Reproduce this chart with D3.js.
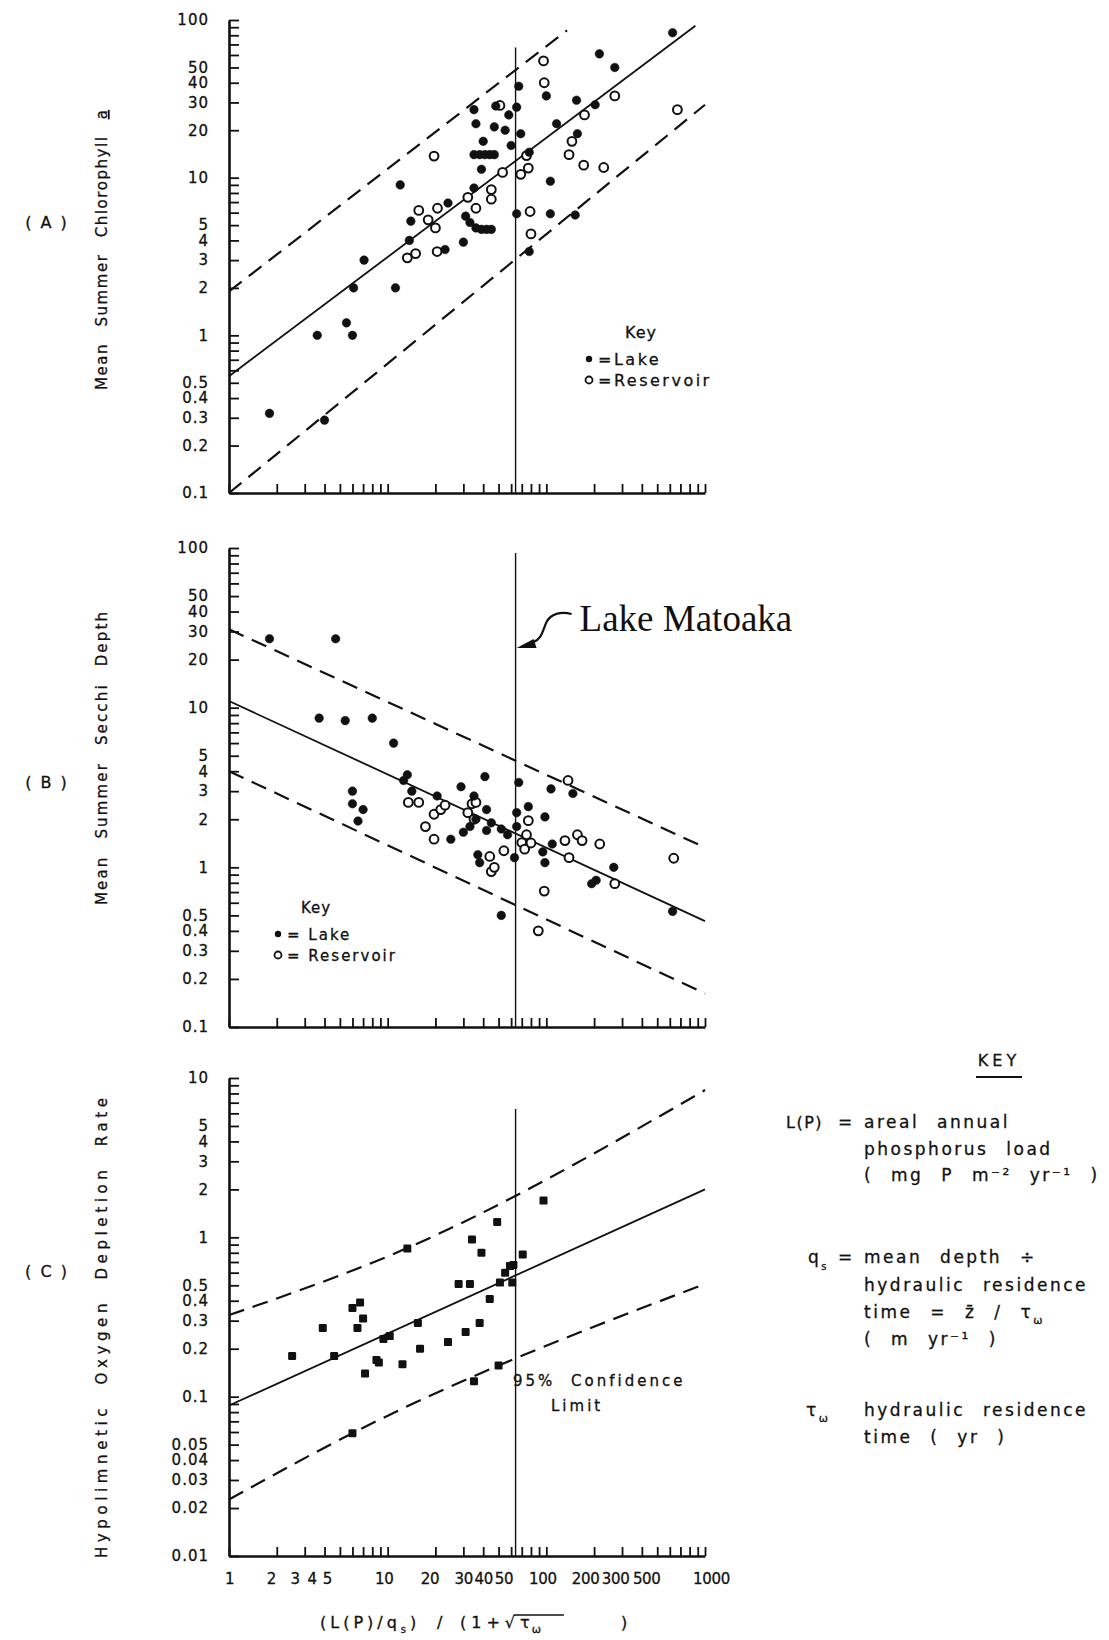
<!DOCTYPE html>
<html>
<head>
<meta charset="utf-8">
<title>Phosphorus loading relationships</title>
<script src="https://d3js.org/d3.v7.min.js"></script>
<style>
  body { margin: 0; background: #fff; }
  text { font-family: "DejaVu Sans", sans-serif; fill: #111; stroke: #111; stroke-width: 0.3px; }
</style>
</head>
<body>
<div id="viz"></div>
<script>
// tick labels
const xLabels = [1, 2, 3, 4, 5, 10, 20, 30, 40, 50, 100, 200, 300, 500, 1000];
const yLabelsAB = [0.1, 0.2, 0.3, 0.4, 0.5, 1, 2, 3, 4, 5, 10, 20, 30, 40, 50, 100];
const yLabelsC = [0.01, 0.02, 0.03, 0.04, 0.05, 0.1, 0.2, 0.3, 0.4, 0.5, 1, 2, 3, 4, 5, 10];

// Lake Matoaka loading value and top of its marker line in each panel
const lakeMatoaka = 64;
const matoakaTop = [67, 93, 6.4];

// (A) mean summer chlorophyll a   [loading term, chl]
const chlLake = [[1.8,0.32],[3.6,1.0],[4.0,0.29],[5.5,1.2],[6.0,1.0],[6.1,2.0],[7.1,3.0],[11.2,2.0],
  [12,9],[13.7,4.0],[14,5.3],[23,3.5],[24,6.9],[30,3.9],[31,5.7],[35,27],[36,22],[35,14],[38,14],
  [41,14],[44,14],[47,14],[39,11.3],[40,17],[35,8.6],[33,5.2],[36,4.8],[39,4.7],[42,4.7],[45,4.7],
  [47,21],[55,20],[60,16],[58,25],[65,28],[67,38],[69,19],[65,5.9],[78,3.4],[78,14.5],[48,28.5],
  [100,33],[106,9.5],[106,5.9],[116,22],[152,5.8],[155,31],[157,19],[203,29],[216,61],[270,50],[625,83]];
const chlReservoir = [[13.3,3.1],[15,3.3],[15.7,6.2],[18,5.4],[20,4.8],[19.6,13.7],[20.6,6.4],[20.5,3.4],
  [32,7.5],[36,6.4],[45,8.4],[45,7.3],[53,10.8],[51,28.7],[69,10.5],[75,13.8],[77,11.5],[79,6.1],[80,4.4],
  [96,55],[97,40],[139,14],[145,17],[172,12],[174,25],[230,11.6],[270,33],[670,27]];
const chlFit = [[1, 0.55], [870, 92]];
const chlUpper = [[1, 1.9], [135, 86]];
const chlLower = [[1, 0.1], [1000, 29]];

// (B) mean summer Secchi depth
const secchiLake = [[1.8,27],[4.7,27],[3.7,8.6],[5.4,8.3],[8.0,8.6],[10.9,6.0],[6.0,3.0],[6.0,2.5],[7.0,2.3],
  [6.5,1.95],[12.6,3.5],[13.3,3.8],[14.2,3.0],[20.5,2.8],[25,1.5],[29,3.2],[35,2.8],[41,3.7],[37,1.2],
  [38,1.07],[42,1.7],[42,2.3],[45,1.9],[52,1.74],[57,1.6],[52,0.5],[65,2.2],[67,3.4],[63,1.15],[65,1.8],
  [77,2.4],[98,2.07],[98,1.07],[95,1.25],[107,3.1],[109,1.4],[147,2.9],[193,0.79],[206,0.83],[266,1.0],
  [625,0.53],[30,1.66],[33,1.8],[36,2.0]];
const secchiReservoir = [[13.5,2.55],[15.7,2.55],[17.3,1.8],[19.6,2.15],[21.6,2.3],[23,2.45],[19.6,1.5],
  [32,2.2],[34,2.5],[36,2.55],[35,2.0],[44,1.17],[45,0.94],[47,1.0],[54,1.27],[70,1.43],[73,1.3],[77,1.96],
  [75,1.6],[80,1.42],[97,0.71],[89,0.4],[131,1.47],[137,3.5],[139,1.15],[157,1.6],[168,1.47],[217,1.4],
  [270,0.79],[635,1.14]];
const secchiFit = [[1, 11], [1000, 0.46]];
const secchiUpper = [[1, 31], [1000, 1.33]];
const secchiLower = [[1, 4.0], [1000, 0.162]];

// (C) hypolimnetic oxygen depletion rate
const hodLake = [[2.5,0.18],[3.9,0.27],[4.6,0.18],[6.0,0.36],[6.7,0.39],[6.45,0.27],[7.0,0.31],[7.2,0.14],
  [6.0,0.059],[8.5,0.17],[8.8,0.164],[9.4,0.23],[10.3,0.24],[12.4,0.16],[13.3,0.85],[15.5,0.29],[16,0.2],
  [24,0.22],[28,0.51],[33,0.51],[31,0.255],[34,0.97],[35,0.125],[38,0.29],[39,0.8],[44,0.41],[49,1.25],
  [50,0.157],[51,0.52],[55,0.6],[59,0.66],[61,0.52],[62,0.67],[71,0.78],[96,1.7]];
const hodFit = [[1, 0.088], [1000, 2.0]];
const hodUpper = [[1, 0.325], [12, 0.82], [1000, 8.4]];
const hodLower = [[1, 0.0226], [6, 0.059], [1000, 0.51]];

let width = 1109, height = 1640;
let svg = d3.select('#viz').append('svg')
  .attr('width', width).attr('height', height);

let x = d3.scaleLog().domain([1, 1000]).range([229, 705]);
let yA = d3.scaleLog().domain([0.1, 100]).range([493, 20]);
let yB = d3.scaleLog().domain([0.1, 100]).range([1027, 548]);
let yC = d3.scaleLog().domain([0.01, 10]).range([1556, 1078]);

const has = (list, d) => list.some(v => Math.abs(v - d) / v < 1e-6);
// hand-lettered x labels sit a little off their ticks
const xNudge = {2: -6, 3: -10, 4: -13, 5: -13, 10: -4, 20: -6, 50: 5, 100: -4, 200: -9, 300: -7, 500: -11, 1000: 6};

function drawAxes(y, labels, xLab) {
  let gy = svg.append('g').attr('transform', 'translate(229,0)')
    .call(d3.axisLeft(y).tickValues(y.ticks()).tickSize(-10).tickSizeOuter(0).tickPadding(20)
      .tickFormat(d => has(labels, d) ? String(d) : ''));
  let gx = svg.append('g').attr('transform', `translate(0,${y.range()[0]})`)
    .call(d3.axisBottom(x).tickValues(x.ticks()).tickSize(-9).tickSizeOuter(0).tickPadding(17)
      .tickFormat(d => xLab && has(xLab, d) ? String(d) : ''));
  [gy, gx].forEach(g => {
    g.attr('font-family', null).attr('font-size', null);
    g.select('.domain').attr('stroke', '#111').attr('stroke-width', 2.6);
    g.selectAll('.tick line').attr('stroke', '#111').attr('stroke-width', 1.8);
    g.selectAll('.tick text').attr('fill', '#111')
      .style('font-size', '15px').style('letter-spacing', '1px');
  });
  gx.selectAll('.tick text').attr('dx', d => xNudge[d] || 0)
    .style('letter-spacing', '-0.3px');
}

function drawLine(data, y, dashed, curve) {
  svg.append('path').datum(data)
    .attr('d', d3.line().x(d => x(d[0])).y(d => y(d[1])).curve(curve || d3.curveLinear))
    .attr('fill', 'none').attr('stroke', '#111')
    .attr('stroke-width', dashed ? 2.2 : 1.8)
    .attr('stroke-dasharray', dashed ? '16,9' : null);
}

function dots(data, y, filled) {
  svg.append('g').selectAll('circle').data(data).join('circle')
    .attr('cx', d => x(d[0])).attr('cy', d => y(d[1]))
    .attr('r', filled ? 4.3 : 4.4)
    .attr('fill', filled ? '#111' : '#fff')
    .attr('stroke', '#111').attr('stroke-width', filled ? 0.5 : 2);
}

function matoaka(y, top) {
  svg.append('line')
    .attr('x1', x(lakeMatoaka)).attr('x2', x(lakeMatoaka))
    .attr('y1', y(top)).attr('y2', y.range()[0])
    .attr('stroke', '#111').attr('stroke-width', 1.4);
}

function yTitle(cx, y0, y1, parts) {
  let t = svg.append('text')
    .attr('transform', `translate(${cx},${y0}) rotate(-90)`)
    .attr('textLength', y0 - y1).attr('lengthAdjust', 'spacing')
    .style('font-size', '15px').style('word-spacing', '10px');
  parts.forEach(p => {
    let s = t.append('tspan').text(p[0]);
    if (p[1]) s.style('text-decoration', 'underline');
  });
}

function label(tx, ty, txt, size, extra) {
  let t = svg.append('text').attr('x', tx).attr('y', ty).text(txt)
    .style('font-size', (size || 15) + 'px');
  if (extra) extra(t);
  return t;
}

// ---------- panel A ----------
drawLine(chlUpper, yA, true);
drawLine(chlLower, yA, true);
drawLine(chlFit, yA, false);
matoaka(yA, matoakaTop[0]);
dots(chlReservoir, yA, false);
dots(chlLake, yA, true);
drawAxes(yA, yLabelsAB, null);

// ---------- panel B ----------
drawLine(secchiUpper, yB, true);
drawLine(secchiLower, yB, true);
drawLine(secchiFit, yB, false);
matoaka(yB, matoakaTop[1]);
dots(secchiReservoir, yB, false);
dots(secchiLake, yB, true);
drawAxes(yB, yLabelsAB, null);

// ---------- panel C ----------
drawLine(hodUpper, yC, true, d3.curveMonotoneX);
drawLine(hodLower, yC, true, d3.curveMonotoneX);
drawLine(hodFit, yC, false);
matoaka(yC, matoakaTop[2]);
svg.append('g').selectAll('rect').data(hodLake).join('rect')
  .attr('x', d => x(d[0]) - 4).attr('y', d => yC(d[1]) - 4)
  .attr('width', 8).attr('height', 8).attr('rx', 1.2).attr('fill', '#111');
drawAxes(yC, yLabelsC, xLabels);

// panel letters and y titles
[['( A )', 222], ['( B )', 782], ['( C )', 1271]].forEach(p => {
  label(47, p[1] + 6, p[0], 16, t => t.attr('text-anchor', 'middle').style('letter-spacing', '2px'));
});
yTitle(107, 390, 110, [['Mean Summer Chlorophyll '], ['a', true]]);
yTitle(107, 905, 612, [['Mean Summer Secchi Depth']]);
yTitle(107, 1558, 1098, [['Hypolimnetic Oxygen Depletion Rate']]);

// legends
function legend(kx, ky, sx, txt1, txt2, fs, ls) {
  label(kx, ky, 'Key', fs, t => t.attr('text-anchor', 'middle').style('letter-spacing', '1px'));
  svg.append('circle').attr('cx', sx).attr('cy', ky + 21).attr('r', 3.2).attr('fill', '#111');
  svg.append('circle').attr('cx', sx).attr('cy', ky + 42).attr('r', 3.5)
    .attr('fill', '#fff').attr('stroke', '#111').attr('stroke-width', 1.8);
  label(sx + 9, ky + 27, txt1, fs, t => t.style('letter-spacing', ls + 'px'));
  label(sx + 9, ky + 48, txt2, fs, t => t.style('letter-spacing', ls + 'px'));
}
legend(641, 338, 589, '=Lake', '=Reservoir', 16, 2.5);
legend(316, 913, 278, '= Lake', '= Reservoir', 15, 2);

// Lake Matoaka annotation
let vx = x(lakeMatoaka);
svg.append('path')
  .attr('d', `M${vx + 56},614 C${vx + 45},611 ${vx + 35},614 ${vx + 31},622 S${vx + 27},638 ${vx + 18},642`)
  .attr('fill', 'none').attr('stroke', '#111').attr('stroke-width', 2.2);
svg.append('path')
  .attr('d', `M${vx + 1},648 L${vx + 18},639 L${vx + 21},648 Z`).attr('fill', '#111');
label(vx + 64, 631, 'Lake Matoaka', 37, t => t.style('font-family', '"Liberation Serif", serif').style('stroke-width', 0));

// confidence limit note
label(513, 1386, '95% Confidence', 15, t => t.style('letter-spacing', '3px').style('word-spacing', '8px'));
label(551, 1411, 'Limit', 15, t => t.style('letter-spacing', '3px'));

// x-axis title, lettered in separate pieces
let xt1 = label(320, 1628, '(L(P)/q', 16, t => t.style('letter-spacing', '4px'));
xt1.append('tspan').attr('dy', 5).style('font-size', '10px').text('s');
xt1.append('tspan').attr('dy', -5).text(')');
label(437, 1628, '/', 16);
let xt2 = label(460, 1628, '(1+', 16, t => t.style('letter-spacing', '5px'));
let rad = xt2.append('tspan').text('\u221A');
xt2.append('tspan').style('letter-spacing', '2px').text('\u03C4');
let om = xt2.append('tspan').attr('dy', 5).style('font-size', '11px').text('\u03C9');
label(621, 1628, ')', 16);
let rb = rad.node().getBBox(), ob = om.node().getBBox();
svg.append('line').attr('x1', rb.x + rb.width - 6).attr('x2', ob.x + ob.width + 18)
  .attr('y1', rb.y + 2).attr('y2', rb.y + 2).attr('stroke', '#111').attr('stroke-width', 1.5);

// key of symbols
label(999, 1066, 'KEY', 16, t => t.attr('text-anchor', 'middle').style('letter-spacing', '4px'));
svg.append('line').attr('x1', 976).attr('x2', 1022).attr('y1', 1077).attr('y2', 1077)
  .attr('stroke', '#111').attr('stroke-width', 2);
const keyStyle = t => t.style('letter-spacing', '2.5px').style('word-spacing', '10px');
label(786, 1128, 'L(P)', 16, t => t.style('letter-spacing', '1.5px'));
label(838, 1128, '=', 17, keyStyle);
label(864, 1128, 'areal annual', 17, keyStyle);
label(864, 1155, 'phosphorus load', 17, keyStyle);
label(864, 1181, '( mg P  m\u207B\u00B2  yr\u207B\u00B9 )', 17, keyStyle);
let q = label(808, 1263, 'q', 17, keyStyle);
q.append('tspan').attr('dy', 7).style('font-size', '10px').text('s');
label(838, 1263, '=', 17, keyStyle);
label(864, 1263, 'mean depth \u00F7', 17, keyStyle);
label(864, 1291, 'hydraulic residence', 17, keyStyle);
let tm = label(864, 1318, 'time = z\u0304 / \u03C4', 17, keyStyle);
tm.append('tspan').attr('dy', 6).style('font-size', '11px').text('\u03C9');
label(864, 1345, '( m  yr\u207B\u00B9 )', 17, keyStyle);
let tw = label(806, 1416, '\u03C4', 17, keyStyle);
tw.append('tspan').attr('dy', 6).style('font-size', '11px').text('\u03C9');
label(864, 1416, 'hydraulic residence', 17, keyStyle);
label(864, 1443, 'time  ( yr )', 17, keyStyle);
</script>
</body>
</html>
